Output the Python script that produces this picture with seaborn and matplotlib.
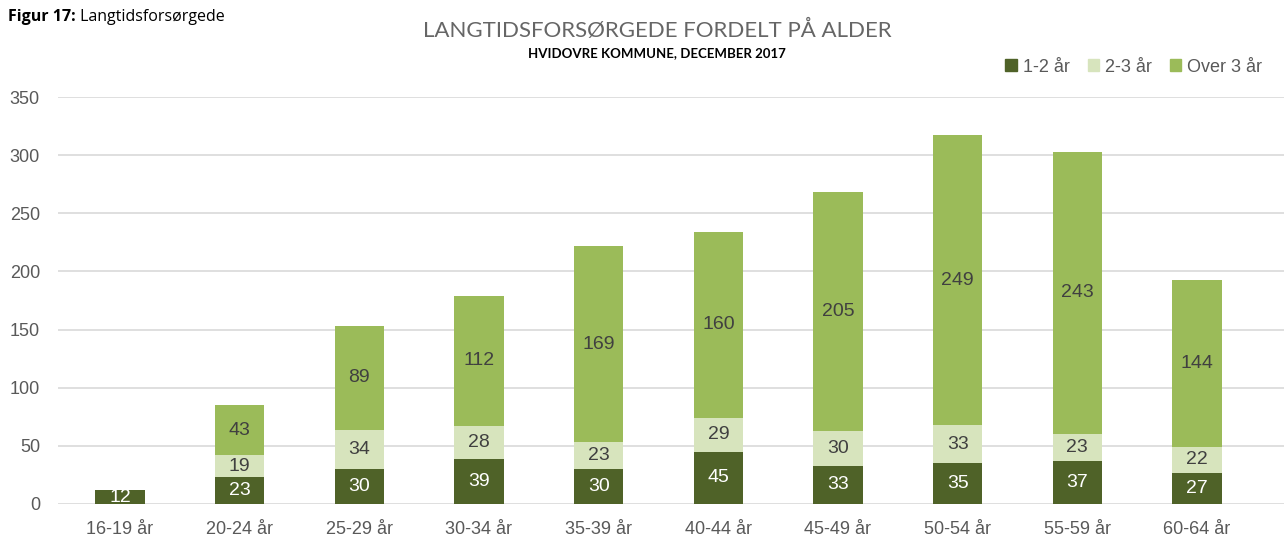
import numpy as np
import pandas as pd
import matplotlib
matplotlib.use("Agg")
import matplotlib.pyplot as plt
import seaborn as sns
from matplotlib.patches import Patch

# Data
age_groups = ["16-19 år", "20-24 år", "25-29 år", "30-34 år", "35-39 år",
              "40-44 år", "45-49 år", "50-54 år", "55-59 år", "60-64 år"]
years_1_2 = [12, 23, 30, 39, 30, 45, 33, 35, 37, 27]
years_2_3 = [0, 19, 34, 28, 23, 29, 30, 33, 23, 22]
years_over_3 = [0, 43, 89, 112, 169, 160, 205, 249, 243, 144]
series_names = ["1-2 år", "2-3 år", "Over 3 år"]
y_ticks = [0, 50, 100, 150, 200, 250, 300, 350]

DARK = "#4F6228"
LIGHT = "#D7E4BD"
MID = "#9BBB59"
TEXT = "#404040"
GREY = "#595959"

sns.set_style("white")
plt.rcParams["font.family"] = ["Liberation Sans", "DejaVu Sans"]

df = pd.DataFrame({
    "alder": age_groups,
    "a": years_1_2,
    "b": years_2_3,
    "c": years_over_3,
})
df["ab"] = df["a"] + df["b"]
df["abc"] = df["ab"] + df["c"]

fig = plt.figure(figsize=(12.84, 5.41), dpi=100)
ax = fig.add_axes([58 / 1284, 0.0684, 1 - 58 / 1284, 0.7523])

# Stacked bars: totals first, then partial sums drawn on top
for col, color in [("abc", MID), ("ab", LIGHT), ("a", DARK)]:
    sns.barplot(
        data=df,
        x="alder",
        y=col,
        color=color,
        width=0.41,
        saturation=1,
        linewidth=0,
        ax=ax
    )

# Segment labels
for i in range(len(df)):
    segs = [
        (df["a"][i], 0, "white"),
        (df["b"][i], df["a"][i], TEXT),
        (df["c"][i], df["ab"][i], TEXT),
    ]
    for val, base, tcol in segs:
        if val > 0:
            ax.text(i, base + val / 2, f"{val}", ha="center", va="center",
                    fontsize=14, color=tcol)

ax.set_xlim(-0.518, 9.727)
ax.set_ylim(0, 350)
ax.set_yticks(y_ticks)
ax.yaxis.grid(True, color="#D9D9D9", linewidth=1.2)
ax.set_axisbelow(True)
for s in ax.spines.values():
    s.set_visible(False)
ax.tick_params(axis="both", length=0, labelsize=13, labelcolor=GREY)
ax.tick_params(axis="x", pad=12)
ax.tick_params(axis="y", pad=13)
ax.set_xlabel("")
ax.set_ylabel("")

# Titles
t = fig.text(8 / 1284, 1 - 17 / 541, "Figur 17:", fontsize=11.5, fontweight="bold",
             family="Open Sans", color="black", va="center")
ax.annotate(" Langtidsforsørgede", xy=(1, 0.5), xycoords=t, fontsize=11.5,
            family="Open Sans", color="black", va="center", ha="left",
            annotation_clip=False)
fig.text(657 / 1284, 1 - 30 / 541, "LANGTIDSFORSØRGEDE FORDELT PÅ ALDER",
         fontsize=16, family="Lato", color="#666666",
         ha="center", va="center")
fig.text(657 / 1284, 1 - 53 / 541, "HVIDOVRE KOMMUNE, DECEMBER 2017",
         fontsize=9.5, family="Lato", fontweight="bold", color="black",
         ha="center", va="center")

handles = [Patch(color=c, label=n) for c, n in zip([DARK, LIGHT, MID], series_names)]
fig.legend(handles=handles, loc="center right", bbox_to_anchor=(1278 / 1284, 1 - 67 / 541),
           ncol=3, frameon=False, fontsize=13, labelcolor=GREY,
           handlelength=0.65, handleheight=0.65, handletextpad=0.3, columnspacing=1.0)

fig.savefig("out.png", dpi=100)
